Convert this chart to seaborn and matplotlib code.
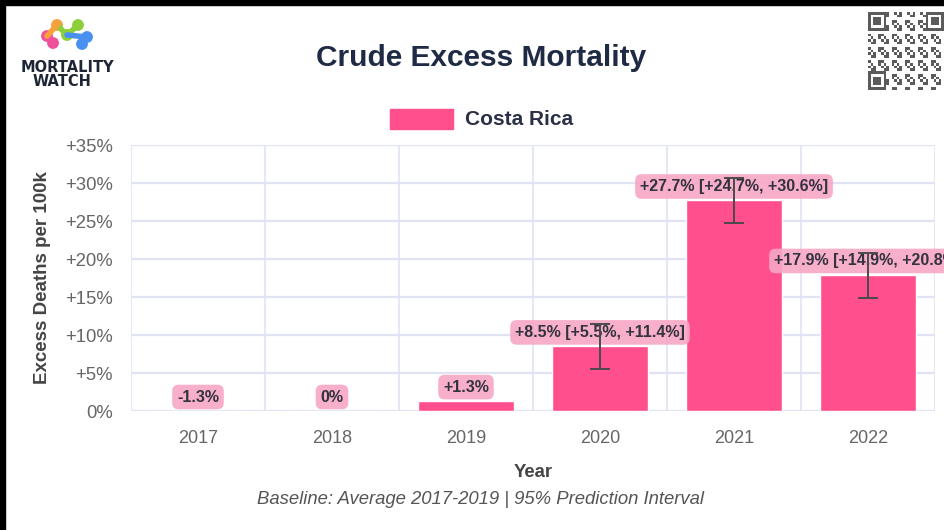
import numpy as np
import pandas as pd
import matplotlib
matplotlib.use("Agg")
import matplotlib.pyplot as plt
from matplotlib.patches import Rectangle
import seaborn as sns

# ---- data ----
years = ["2017", "2018", "2019", "2020", "2021", "2022"]
excess = [-1.3, 0.0, 1.3, 8.5, 27.7, 17.9]
pi_lower = [np.nan, np.nan, np.nan, 5.5, 24.7, 14.9]
pi_upper = [np.nan, np.nan, np.nan, 11.4, 30.6, 20.8]
yticks = [0, 5, 10, 15, 20, 25, 30, 35]
country = "Costa Rica"

sns.set_style("white")
plt.rcParams["font.family"] = ["Liberation Sans", "DejaVu Sans"]

BAR = "#ff4f8d"
LABEL_BG = "#f7a6c5"
GRID = "#dfe3f4"
NAVY = "#1f2a44"

fig = plt.figure(figsize=(9.45, 5.3), dpi=100)
fig.patch.set_facecolor("white")
# black frame strips (top and left)
fig.add_artist(Rectangle((0, 0), 5 / 945, 1, transform=fig.transFigure, color="black", zorder=10))
fig.add_artist(Rectangle((0, 1 - 5 / 530), 1, 5 / 530, transform=fig.transFigure, color="black", zorder=10))

ax = fig.add_axes([131 / 945, 1 - 411 / 530, (935 - 131) / 945, (411 - 145) / 530])

df = pd.DataFrame({"year": years, "excess": excess})
sns.barplot(data=df, x="year", y="excess", color=BAR, saturation=1, width=0.72, ax=ax, zorder=3)

xs = np.arange(len(years))
lo = np.array(pi_lower)
hi = np.array(pi_upper)
v = np.array(excess)
mask = ~np.isnan(lo)
ax.errorbar(xs[mask], v[mask], yerr=[v[mask] - lo[mask], hi[mask] - v[mask]],
            fmt="none", ecolor="#4a4a4a", elinewidth=1.4, capsize=7, capthick=1.4, zorder=7)


def fmt(x):
    if x == 0:
        return "0%"
    return f"{x:+.1f}%"


for i, val in enumerate(excess):
    txt = fmt(val)
    if not np.isnan(pi_lower[i]):
        txt += f" [{fmt(pi_lower[i])}, {fmt(pi_upper[i])}]"
    ax.annotate(txt, xy=(i, max(val, 0)), xytext=(0, 14), textcoords="offset pixels",
                ha="center", va="center", fontsize=11.5, fontweight="bold", color="#333340",
                bbox=dict(boxstyle="round,pad=0.3,rounding_size=0.4", fc=LABEL_BG, ec="none", alpha=0.9),
                zorder=6, annotation_clip=False)

ax.set_xlim(-0.5, len(years) - 0.5)
ax.set_ylim(0, 35)
ax.set_yticks(yticks)
ax.set_yticklabels([("+%d%%" % t) if t > 0 else "0%" for t in yticks])
ax.set_xticks(xs)
ax.set_xticklabels(years)
ax.set_xticks(np.arange(-0.5, len(years), 1), minor=True)

ax.grid(False)
for t in yticks:
    ax.axhline(t, color=GRID, lw=1.6, zorder=1)
for b in np.arange(-0.5, len(years), 1):
    ax.axvline(b, color=GRID, lw=1.2, zorder=1)
for s in ax.spines.values():
    s.set_visible(False)

ax.tick_params(axis="y", which="major", length=10, color=GRID, width=1.6, labelsize=13.3,
               labelcolor="#666666", pad=3)
ax.tick_params(axis="x", which="major", length=0, labelsize=13, labelcolor="#666666", pad=14)
ax.tick_params(axis="x", which="minor", length=8, color=GRID, width=1.2)

ax.set_xlabel("Year", fontsize=13.3, fontweight="bold", color="#444444", labelpad=12)
ax.set_ylabel("Excess Deaths per 100k", fontsize=13.5, fontweight="bold", color="#444444", labelpad=10)

# title
fig.text(481 / 945, 1 - 58 / 530, "Crude Excess Mortality", ha="center", va="center",
         fontsize=21.5, fontweight="bold", color=NAVY)

# legend
fig.add_artist(Rectangle((390 / 945, 1 - 129 / 530), 63 / 945, 20 / 530,
                         transform=fig.transFigure, color=BAR))
fig.text(465 / 945, 1 - 119 / 530, country, ha="left", va="center", fontsize=15,
         fontweight="bold", color="#2a3045")

# footnote
fig.text(481 / 945, 1 - 500 / 530, "Baseline: Average 2017-2019 | 95% Prediction Interval",
         ha="center", va="center", fontsize=13.3, style="italic", color="#555555")

# logo
logo = fig.add_axes([0, 1 - 95 / 530, 140 / 945, 95 / 530])
logo.set_xlim(0, 140)
logo.set_ylim(95, 0)
logo.axis("off")
dots = [(57, 25, "#f7a03c"), (47, 36, "#f0509a"), (53, 43, "#f0509a"), (67, 35, "#8ccf3a"),
        (78, 25, "#8ccf3a"), (87, 37, "#4a90f0"), (82, 44, "#4a90f0")]
links = [(0, 3), (1, 2), (3, 4), (3, 5), (5, 6), (1, 0)]
for a, b in links:
    logo.plot([dots[a][0], dots[b][0]], [dots[a][1], dots[b][1]], color=dots[b][2], lw=4,
              solid_capstyle="round")
for x, y, c in dots:
    logo.add_patch(plt.Circle((x, y), 5.2, color=c))
logo.text(67, 67, "MORTALITY", ha="center", va="center", fontsize=10.5, fontweight="heavy",
          color="#1e2535", family="DejaVu Sans")
logo.text(62, 81, "WATCH", ha="center", va="center", fontsize=10.5, fontweight="heavy",
          color="#1e2535", family="DejaVu Sans")

# QR-style decoration
n = 29
ii, jj = np.meshgrid(np.arange(n), np.arange(n), indexing="ij")
qr = (((ii * 7 + jj * 13 + ii * jj) % 5) < 2).astype(float)
for (r0, c0) in [(0, 0), (0, n - 7), (n - 7, 0)]:
    qr[r0:r0 + 7, c0:c0 + 7] = 1
    qr[r0 + 1:r0 + 6, c0 + 1:c0 + 6] = 0
    qr[r0 + 2:r0 + 5, c0 + 2:c0 + 5] = 1
qax = fig.add_axes([868 / 945, 1 - 90 / 530, 76 / 945, 78 / 530])
qax.imshow(qr, cmap="Greys", vmin=0, vmax=1.4, interpolation="nearest", aspect="auto")
qax.axis("off")

fig.savefig("out.png", dpi=100, facecolor="white")
